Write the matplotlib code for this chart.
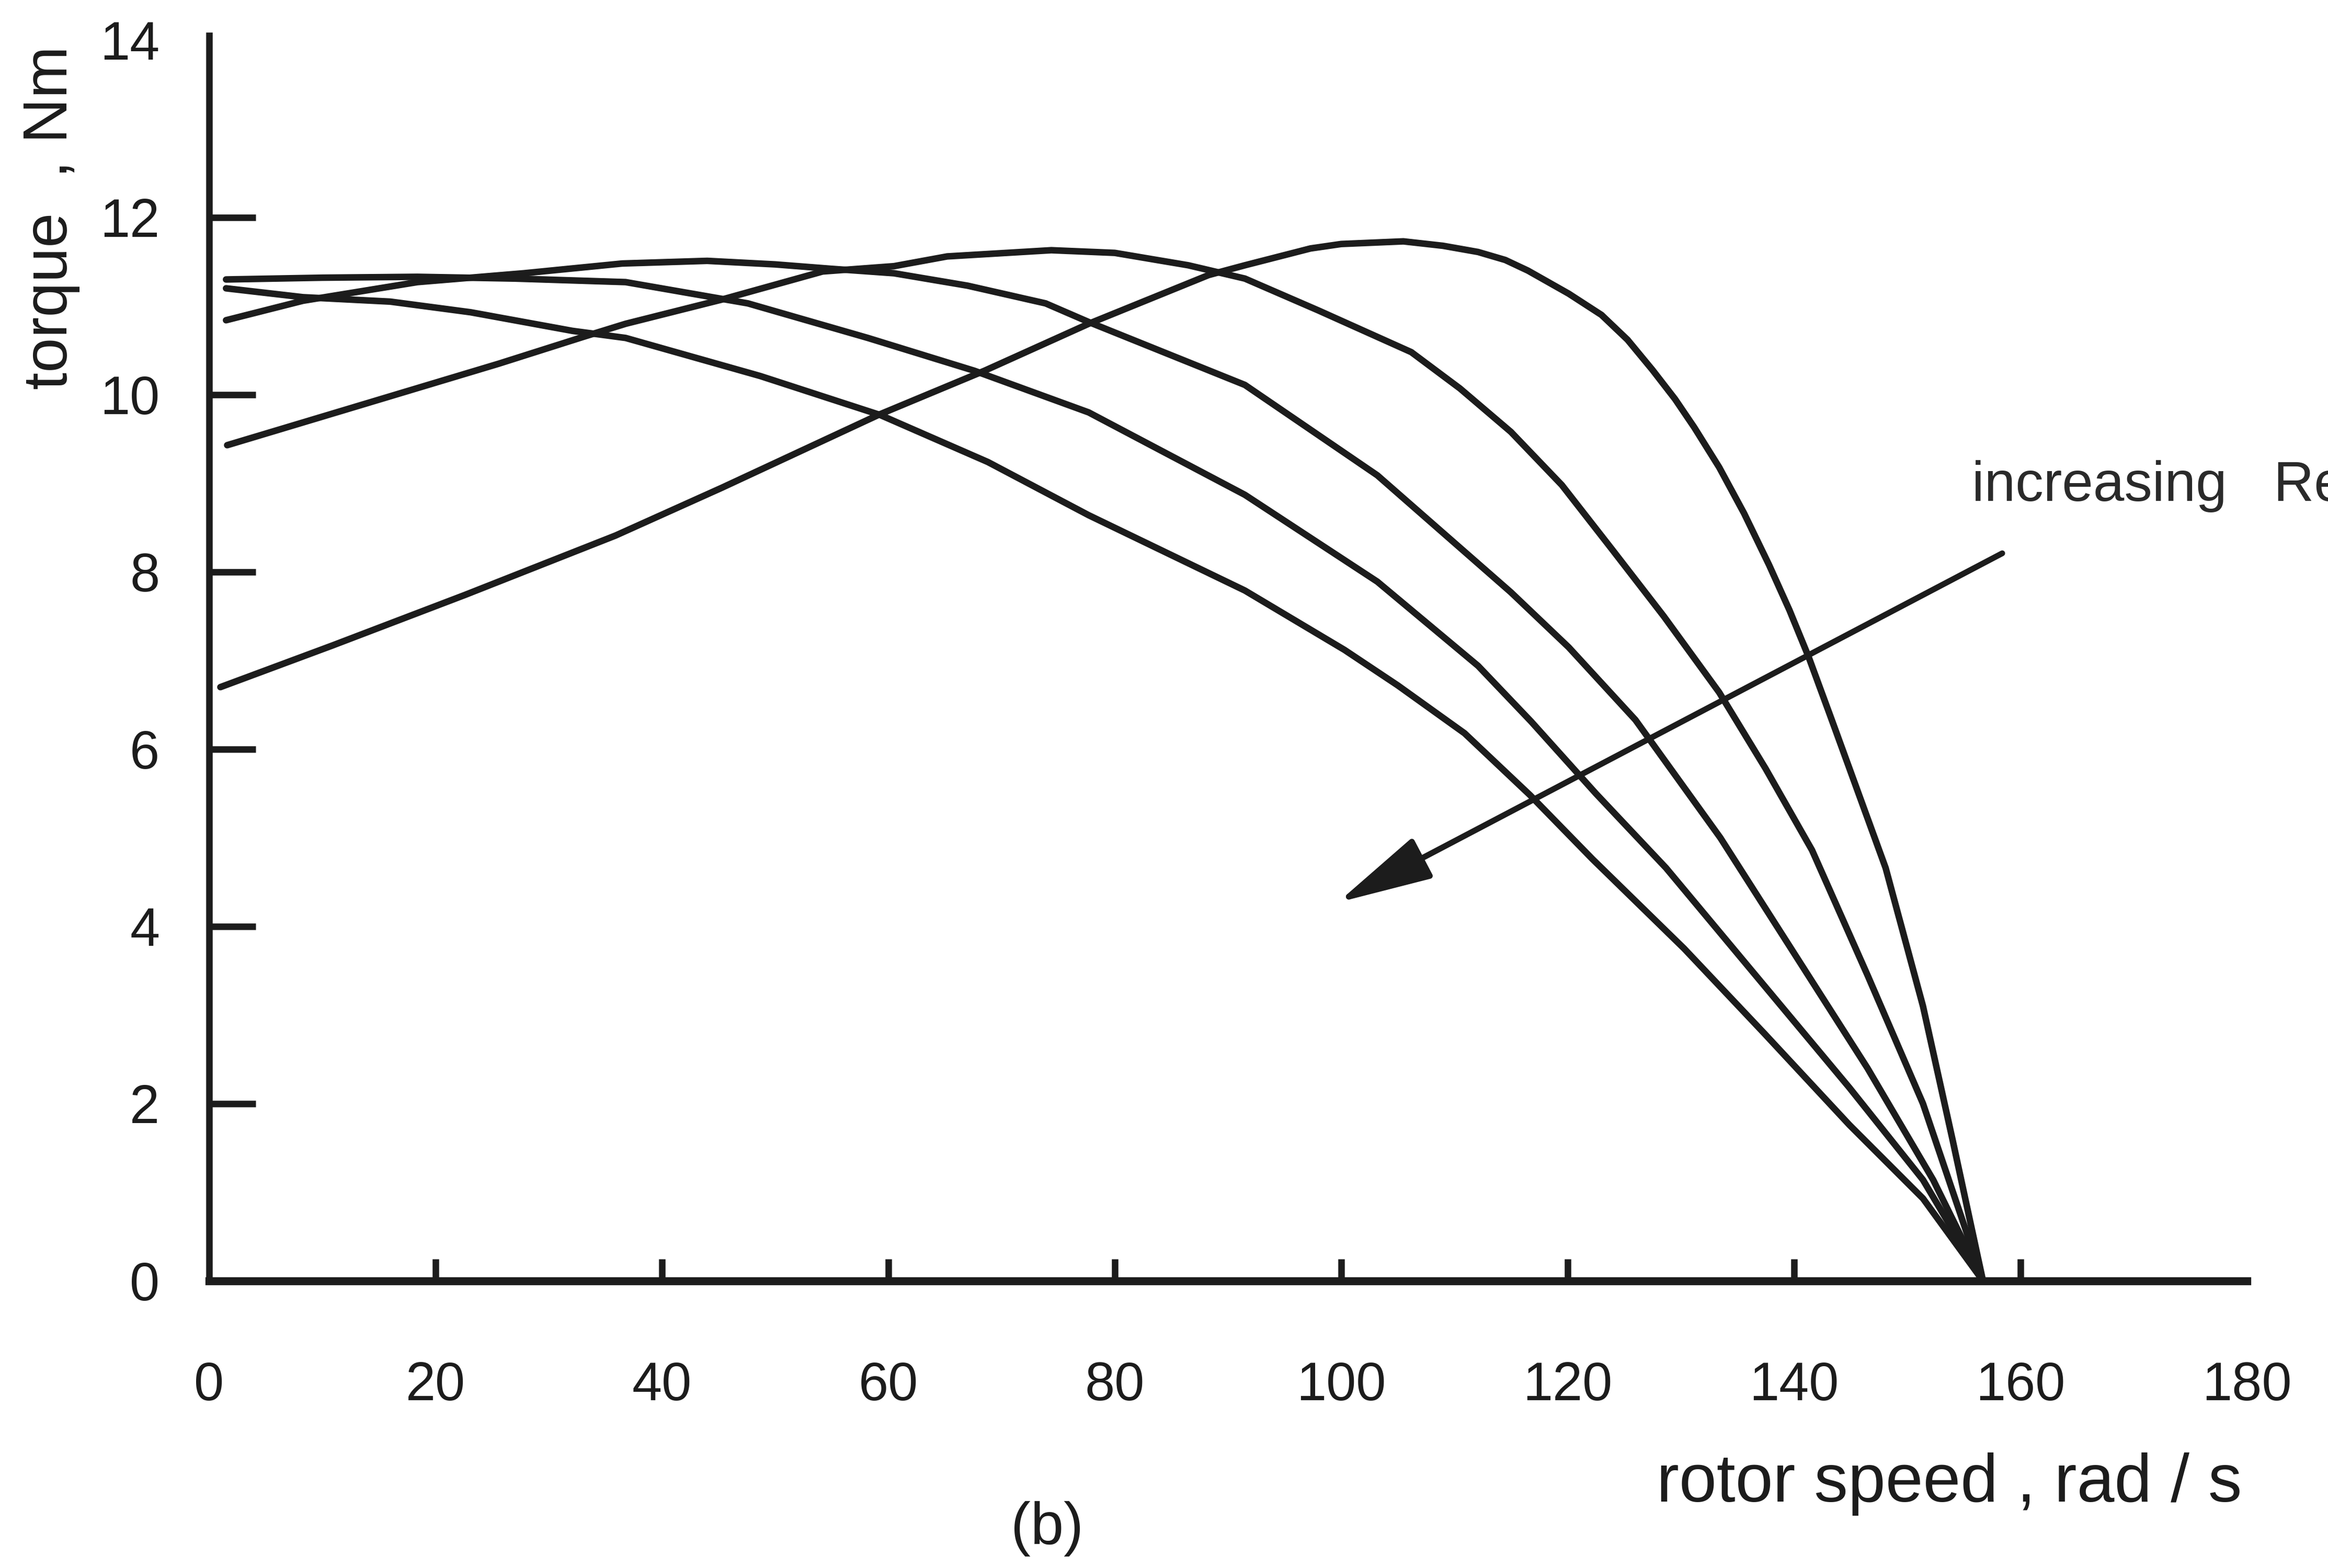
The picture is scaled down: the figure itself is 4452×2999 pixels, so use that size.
import matplotlib
matplotlib.use("Agg")
import matplotlib.pyplot as plt

plt.rcParams['font.family'] = ['Liberation Sans', 'DejaVu Sans']

# torque-speed curves, lowest rotor resistance first
speed_a = [1.0, 10.9, 22.6, 35.9, 45.3, 59.1, 68.5, 77.7, 88.3, 91.5, 97.3, 100.0, 105.5, 109.0,
           112.1, 114.5, 116.5, 120.1, 123.0, 125.3, 127.5, 129.5, 131.2, 133.4, 135.6, 137.8,
           139.6, 141.3, 143.4, 148.1, 151.4, 154.0, 156.7]
torque_a = [6.70, 7.17, 7.74, 8.41, 8.95, 9.77, 10.27, 10.80, 11.35, 11.46, 11.65, 11.70, 11.73, 11.68,
            11.61, 11.52, 11.40, 11.14, 10.90, 10.62, 10.28, 9.95, 9.63, 9.18, 8.66, 8.08,
            7.57, 7.04, 6.31, 4.66, 3.10, 1.60, 0.0]

speed_b = [1.6, 12.3, 25.6, 33.0, 36.8, 45.2, 54.2, 60.5, 65.2, 74.4, 80.0, 86.5, 91.5, 98.0,
           106.2, 110.5, 115.0, 119.5, 123.9, 128.5, 133.4, 137.5, 141.6, 146.5, 151.4, 156.7]
torque_b = [9.43, 9.84, 10.35, 10.65, 10.80, 11.07, 11.39, 11.45, 11.56, 11.63, 11.60, 11.46, 11.31, 10.95,
            10.48, 10.07, 9.58, 8.98, 8.26, 7.50, 6.64, 5.78, 4.86, 3.45, 2.00, 0.0]

speed_c = [1.5, 8.3, 18.4, 27.8, 36.5, 44.0, 50.0, 55.0, 60.5, 67.0, 73.9, 77.7, 91.5, 103.2,
           115.0, 120.1, 126.0, 133.5, 140.0, 146.5, 152.3, 156.7]
torque_c = [10.84, 11.06, 11.27, 11.37, 11.48, 11.51, 11.47, 11.42, 11.37, 11.23, 11.03, 10.82, 10.11, 9.09,
            7.77, 7.15, 6.33, 5.00, 3.70, 2.40, 1.14, 0.0]

speed_d = [1.5, 10.0, 18.4, 27.0, 36.8, 47.6, 58.2, 67.6, 77.7, 91.5, 103.2, 112.1, 116.8,
           122.5, 128.7, 136.8, 144.9, 151.4, 156.7]
torque_d = [11.30, 11.32, 11.33, 11.31, 11.27, 11.03, 10.64, 10.27, 9.80, 8.87, 7.89, 6.94, 6.31,
            5.50, 4.66, 3.42, 2.18, 1.14, 0.0]

speed_e = [1.5, 8.3, 16.0, 23.1, 32.1, 36.8, 48.7, 59.3, 68.8, 77.7, 91.5, 100.3, 105.0, 110.9,
           116.7, 122.2, 130.3, 137.4, 144.9, 151.4, 156.7]
torque_e = [11.20, 11.10, 11.05, 10.93, 10.72, 10.64, 10.21, 9.77, 9.24, 8.64, 7.79, 7.12, 6.72, 6.18,
            5.48, 4.76, 3.75, 2.79, 1.76, 0.93, 0.0]

curves = [(speed_a, torque_a), (speed_b, torque_b), (speed_c, torque_c),
          (speed_d, torque_d), (speed_e, torque_e)]

x_ticks = [0, 20, 40, 60, 80, 100, 120, 140, 160, 180]
y_ticks = [0, 2, 4, 6, 8, 10, 12, 14]

# arrow "increasing Rr": tail and head in data units
arrow_tail = (158.4, 8.21)
arrow_head = (99.7, 4.27)

ink = '#1c1c1c'

fig = plt.figure(figsize=(44.52, 29.99), dpi=100)
ax = fig.add_axes([0.0898, 0.1831, 0.8753, 0.7941])

for sx, ty in curves:
    ax.plot(sx, ty, color=ink, lw=9, solid_capstyle='round', solid_joinstyle='round')

ax.set_xlim(0, 180)
ax.set_ylim(0, 14.05)

for side in ['top', 'right']:
    ax.spines[side].set_visible(False)
ax.spines['left'].set_linewidth(9)
ax.spines['bottom'].set_linewidth(11)
ax.spines['left'].set_color(ink)
ax.spines['bottom'].set_color(ink)

ax.set_xticks(x_ticks)
ax.set_yticks(y_ticks)
ax.tick_params(axis='x', direction='in', length=30, width=9, pad=110,
               labelsize=74, colors=ink)
ax.tick_params(axis='y', direction='in', length=64, width=9, pad=68,
               labelsize=74, colors=ink)
# no tick marks at the ends of the axes
for i, t in enumerate(ax.xaxis.get_major_ticks()):
    if x_ticks[i] in (0, 180):
        t.tick1line.set_visible(False)
for i, t in enumerate(ax.yaxis.get_major_ticks()):
    if y_ticks[i] in (0, 14):
        t.tick1line.set_visible(False)

ax.annotate('', xy=arrow_head, xytext=arrow_tail,
            arrowprops=dict(arrowstyle='-|>,head_length=1.6,head_width=0.38',
                            mutation_scale=70, lw=8, color=ink,
                            shrinkA=0, shrinkB=0))

# the label runs off the right edge in the original scan as well
fig.text(0.847, 0.690, 'increasing   Re', fontsize=77, color='#2a2a2a',
         ha='left', va='center')

fig.text(0.022, 0.861, 'torque  , Nm', fontsize=86, color=ink,
         rotation=90, ha='center', va='center')
fig.text(0.963, 0.0534, 'rotor speed , rad / s', fontsize=93, color=ink,
         ha='right', va='center')
fig.text(0.4497, 0.025, '(b)', fontsize=82, color=ink, ha='center', va='center')

fig.savefig('out.png', dpi=100, facecolor='white')
